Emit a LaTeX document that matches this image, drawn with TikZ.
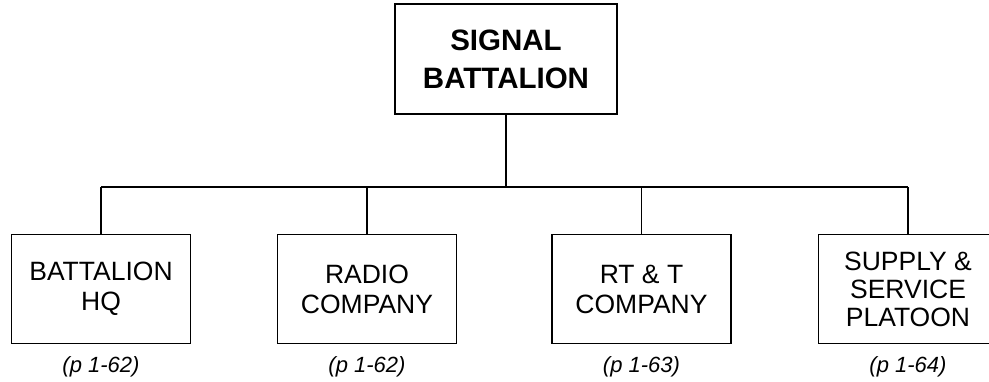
\documentclass[tikz,border=0pt]{standalone}
\usepackage{fontspec}
\setmainfont{Liberation Sans}
\usetikzlibrary{positioning,calc}

\begin{document}
\begin{tikzpicture}[x=1pt,y=-1pt,
    unitbox/.style={draw, line width=1.6pt, align=center, inner sep=0pt,
        minimum width=179pt, minimum height=109pt,
        font=\fontsize{26.5}{30}\selectfont},
    pagenote/.style={font=\fontsize{22}{24}\selectfont\itshape},
    link/.style={line width=1.6pt}]
\useasboundingbox (0,0) rectangle (989,381);
\clip (0,0) rectangle (989,381);

% Battalion at the top
\node[unitbox, minimum width=222pt, minimum height=110pt,
      font=\fontsize{29.5}{38}\selectfont\bfseries] (bn) at (506,59) {SIGNAL\\BATTALION};
\coordinate (bus) at (506,187);

% Subordinate units
\node[unitbox] (hq)  at (101,289)   {BATTALION\\HQ};
\node[unitbox] (rad) at (367,289)   {RADIO\\COMPANY};
\node[unitbox] (rtt) at (641.5,289) {RT \& T\\COMPANY};
\node[unitbox, font=\fontsize{26.5}{28}\selectfont] (svc) at (908,289) {SUPPLY \&\\SERVICE\\PLATOON};

% Page references
\node[pagenote] (hqp)  at (101,367)   {(p 1-62)};
\node[pagenote] (radp) at (367,367)   {(p 1-62)};
\node[pagenote] (rttp) at (641.5,367) {(p 1-63)};
\node[pagenote] (svcp) at (908,367)   {(p 1-64)};

% Connectors
\draw[link] (bn.south) -- (bus);
\draw[link] (hq.north |- bus) -- (svc.north |- bus);
\foreach \u in {hq,rad,rtt,svc} {
    \draw[link] (\u.north) -- (\u.north |- bus);
}

\end{tikzpicture}
\end{document}
